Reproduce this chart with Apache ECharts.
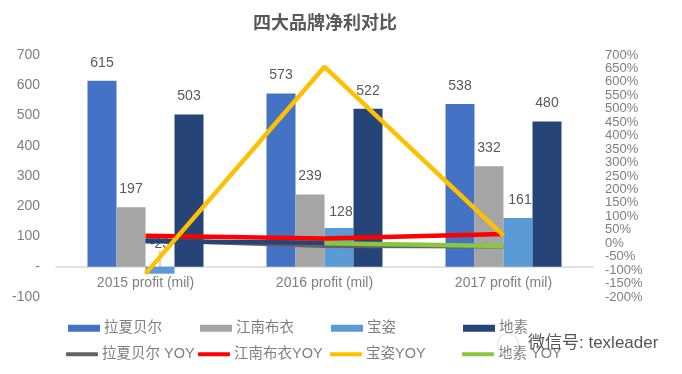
<!DOCTYPE html>
<html><head><meta charset="utf-8">
<style>html,body{margin:0;padding:0;background:#fff}#c{width:682px;height:374px}</style>
<script src="https://cdn.jsdelivr.net/npm/echarts@6/dist/echarts.min.js"></script>
</head><body><div id="c"></div>
<script>
const categories = ['2015 profit (mil)', '2016 profit (mil)', '2017 profit (mil)'];
const lachapelle = [615, 573, 538];
const jnby = [197, 239, 332];
const baozi = [-23, 128, 161];
const dusu = [503, 522, 480];
const lachapelleYoy = [12, -9, -11];
const jnbyYoy = [28, 18, 34];
const baoziYoy = [-113, 656, 28];
const dusuYoy = [null, 0, -10];
const dusuYoyEarly = [7, 2, null];
const leftTicks = [-100, 700, 100];
const rightTicks = [-200, 700, 50];

const font = '"Liberation Sans","Noto Sans CJK SC",sans-serif';
const chart = echarts.init(document.getElementById('c'));
const barLabel = {show: true, position: 'top', distance: 11, color: '#595959', fontSize: 14, fontFamily: font};
const bar = (name, data, color, extra) => ({
  name, type: 'bar', data, barWidth: 29, barGap: 0, itemStyle: {color}, label: barLabel, ...extra
});
const line = (name, data, color, z) => ({
  name, type: 'line', yAxisIndex: 1, data, symbol: 'none', showSymbol: false, z,
  lineStyle: {color, width: 4.5}, itemStyle: {color}, connectNulls: false
});
const legendAt = (name, left, top, icon, h) => ({
  data: [{name, icon}], left, top, itemWidth: 32, itemHeight: h, padding: 0, itemGap: 0,
  textStyle: {color: '#7f7f7f', fontSize: 14.5, fontFamily: font, padding: [0, 0, 0, -1]}
});
const baoziData = baozi.map((v, i) => i === 0 ? v : ({value: v, labelLine: {show: false}}));
chart.setOption({
  animation: false,
  textStyle: {fontFamily: font},
  title: {text: '四大品牌净利对比', left: 248, top: 10,
    textStyle: {color: '#595959', fontSize: 18, fontWeight: 'bold', fontFamily: font}},
  legend: [
    legendAt('拉夏贝尔', 68, 321, 'rect', 7), legendAt('江南布衣', 200, 321, 'rect', 7),
    legendAt('宝姿', 331, 321, 'rect', 7), legendAt('地素', 463, 321, 'rect', 7),
    legendAt('拉夏贝尔 YOY', 66, 347, 'roundRect', 4), legendAt('江南布衣YOY', 198, 347, 'roundRect', 4),
    legendAt('宝姿YOY', 330, 347, 'roundRect', 4), legendAt('地素 YOY', 462, 347, 'roundRect', 4)
  ],
  grid: {left: 56, right: 89, top: 55, bottom: 77},
  xAxis: {type: 'category', data: categories,
    axisLine: {onZero: true, lineStyle: {color: '#d9d9d9', width: 1.5}},
    axisTick: {show: false},
    axisLabel: {color: '#7f7f7f', fontSize: 14, fontFamily: font, margin: -21}},
  yAxis: [
    {type: 'value', min: leftTicks[0], max: leftTicks[1], interval: leftTicks[2],
      splitLine: {show: false}, axisLine: {show: false}, axisTick: {show: false},
      axisLabel: {color: '#7f7f7f', fontSize: 14, fontFamily: font, margin: 16,
        formatter: v => v === 0 ? '-' : v}},
    {type: 'value', min: rightTicks[0], max: rightTicks[1], interval: rightTicks[2],
      splitLine: {show: false}, axisLine: {show: false}, axisTick: {show: false},
      axisLabel: {color: '#7f7f7f', fontSize: 13, lineHeight: 13, fontFamily: font, margin: 12, formatter: '{value}%',
        hideOverlap: false, interval: 0}}
  ],
  series: [
    bar('拉夏贝尔', lachapelle, '#4472c4'),
    bar('江南布衣', jnby, '#a5a5a5'),
    bar('宝姿', baoziData, '#5b9bd5', {
      label: {...barLabel, formatter: p => p.value},
      labelLine: {show: true, lineStyle: {color: '#a6a6a6', width: 1}},
      labelLayout: p => p.dataIndex === 0 ? {dy: -5} :
        p.dataIndex === 1 ? {dx: 2, dy: 2} : {dx: 2}
    }),
    bar('地素', dusu, '#264478'),
    line('拉夏贝尔 YOY', lachapelleYoy, '#636363', 5),
    line('地素 YOY 早期', dusuYoyEarly, '#264478', 6),
    line('江南布衣YOY', jnbyYoy, '#ff0000', 7),
    line('地素 YOY', dusuYoy, '#8cc63f', 8),
    line('宝姿YOY', baoziYoy, '#ffc000', 9)
  ],
  graphic: [
    {type: 'ring', shape: {cx: 508, cy: 344, r: 11, r0: 10}, style: {fill: '#e6e6e6'}, z: 20},
    {type: 'text', left: 528, top: 335, z: 21,
      style: {text: '微信号: texleader', fill: '#555555', font: '17px ' + font}}
  ]
});
</script></body></html>
